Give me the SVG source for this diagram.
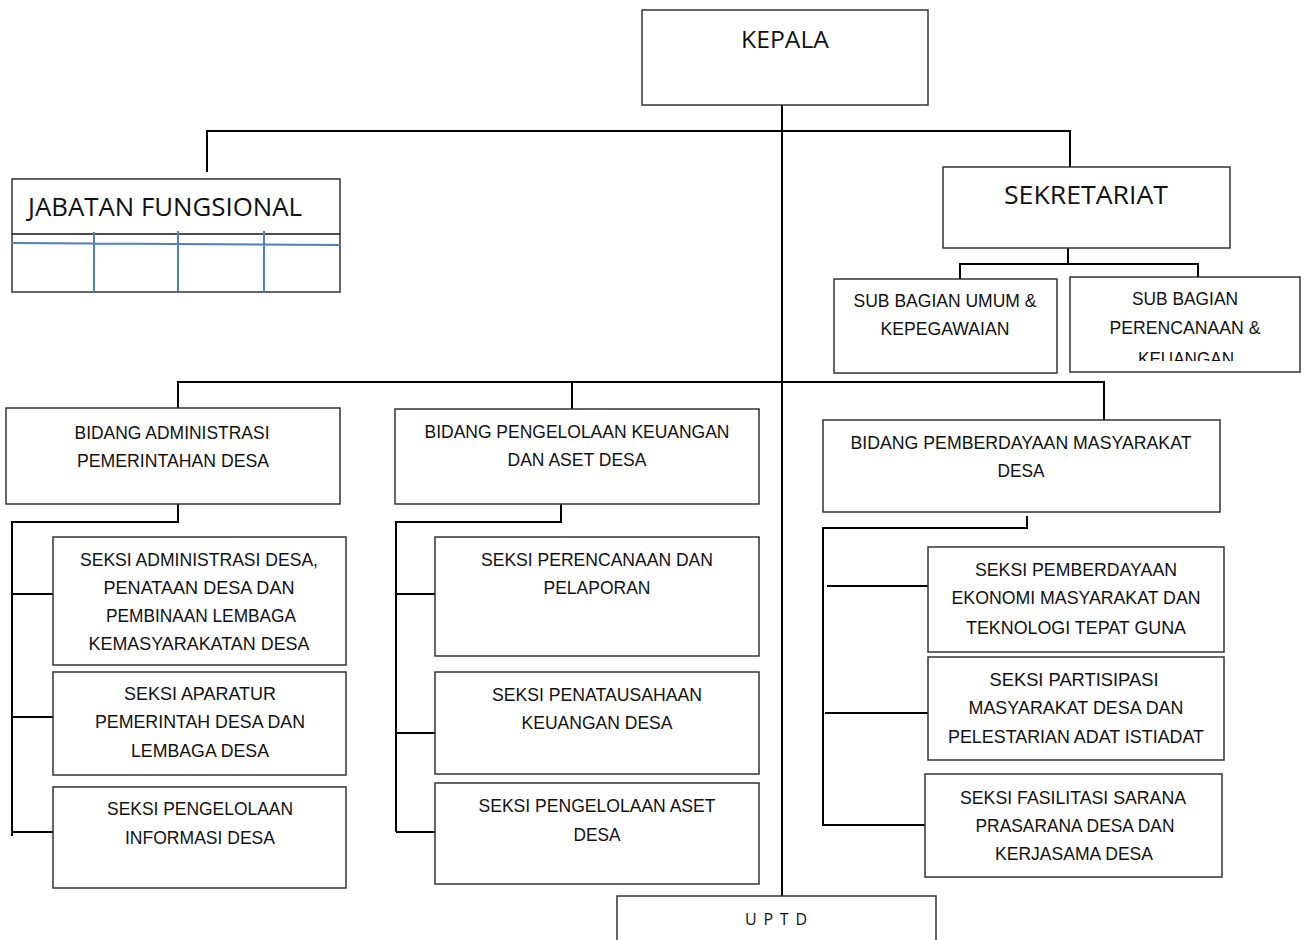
<svg xmlns="http://www.w3.org/2000/svg" width="1306" height="940" viewBox="0 0 1306 940">
<style>
.box{fill:#fff;stroke:#333;stroke-width:1.5}
.ln{stroke:#000;stroke-width:2;fill:none}
.bl{stroke:#4f81bd;stroke-width:2;fill:none}
.t{font-family:"Liberation Sans",Arial,sans-serif;font-size:19px;fill:#111;text-anchor:middle}
.h{font-family:"Open Sans","Noto Sans",sans-serif;fill:#111}
</style>
<defs>
<clipPath id="clipKeu"><rect x="1070" y="277" width="231" height="84"/></clipPath>
</defs>
<g id="connectors">
<path class="ln" d="M782 105V897"/>
<path class="ln" d="M207 172V131H1070V176"/>
<path class="ln" d="M1068 248V264M960 279V264H1198V278"/>
<path class="ln" d="M178 408V382H1104V420M572 382V420"/>
<path class="ln" d="M178 504V522H12V836M12 594H53M12 717H53M12 832H53"/>
<path class="ln" d="M561 504V522H396V832M396 594H435M396 733H435M396 832H435"/>
<path class="ln" d="M1027 516V528H823V825H925M827 586H928M825 713H928"/>
</g>
<g id="kepala">
<rect class="box" x="642" y="10" width="286" height="95"/>
<text class="h" x="785" y="48" font-size="23" text-anchor="middle" textLength="88" lengthAdjust="spacingAndGlyphs">KEPALA</text>
</g>
<g id="jabatan">
<rect class="box" x="12" y="179" width="328" height="113"/>
<path d="M12 234H340" stroke="#111" stroke-width="1.5"/>
<path class="bl" d="M12 243L340 245M94 232V292M178 231V291M264 231V291"/>
<text class="h" x="28" y="216" font-size="25" textLength="274" lengthAdjust="spacingAndGlyphs">JABATAN FUNGSIONAL</text>
</g>
<g id="sekretariat">
<rect class="box" x="943" y="167" width="287" height="81"/>
<text class="h" x="1086" y="204" font-size="25" text-anchor="middle" textLength="164" lengthAdjust="spacingAndGlyphs">SEKRETARIAT</text>
</g>
<g id="sub-umum">
<rect class="box" x="834" y="279" width="223" height="94"/>
<text class="t" x="945" y="307" textLength="183" lengthAdjust="spacingAndGlyphs">SUB BAGIAN UMUM &amp;</text>
<text class="t" x="945" y="335" textLength="129" lengthAdjust="spacingAndGlyphs">KEPEGAWAIAN</text>
</g>
<g id="sub-perencanaan">
<rect class="box" x="1070" y="277" width="230" height="95"/>
<text class="t" x="1185" y="305" textLength="106" lengthAdjust="spacingAndGlyphs">SUB BAGIAN</text>
<text class="t" x="1185" y="334" textLength="151" lengthAdjust="spacingAndGlyphs">PERENCANAAN &amp;</text>
<text class="t" x="1186" y="365" textLength="96" lengthAdjust="spacingAndGlyphs" clip-path="url(#clipKeu)">KEUANGAN</text>
</g>
<g id="bidang-admin">
<rect class="box" x="6" y="408" width="334" height="96"/>
<text class="t" x="172" y="439" textLength="195" lengthAdjust="spacingAndGlyphs">BIDANG ADMINISTRASI</text>
<text class="t" x="173" y="467" textLength="192" lengthAdjust="spacingAndGlyphs">PEMERINTAHAN DESA</text>
</g>
<g id="bidang-keuangan">
<rect class="box" x="395" y="409" width="364" height="95"/>
<text class="t" x="577" y="438" textLength="305" lengthAdjust="spacingAndGlyphs">BIDANG PENGELOLAAN KEUANGAN</text>
<text class="t" x="577" y="466" textLength="139" lengthAdjust="spacingAndGlyphs">DAN ASET DESA</text>
</g>
<g id="bidang-pemberdayaan">
<rect class="box" x="823" y="420" width="397" height="92"/>
<text class="t" x="1021" y="449" textLength="341" lengthAdjust="spacingAndGlyphs">BIDANG PEMBERDAYAAN MASYARAKAT</text>
<text class="t" x="1021" y="477" textLength="47" lengthAdjust="spacingAndGlyphs">DESA</text>
</g>
<g id="seksi-admin-desa">
<rect class="box" x="53" y="537" width="293" height="128"/>
<text class="t" x="199" y="566" textLength="238" lengthAdjust="spacingAndGlyphs">SEKSI ADMINISTRASI DESA,</text>
<text class="t" x="199" y="594" textLength="191" lengthAdjust="spacingAndGlyphs">PENATAAN DESA DAN</text>
<text class="t" x="201" y="622" textLength="190" lengthAdjust="spacingAndGlyphs">PEMBINAAN LEMBAGA</text>
<text class="t" x="199" y="650" textLength="221" lengthAdjust="spacingAndGlyphs">KEMASYARAKATAN DESA</text>
</g>
<g id="seksi-aparatur">
<rect class="box" x="53" y="672" width="293" height="103"/>
<text class="t" x="200" y="700" textLength="152" lengthAdjust="spacingAndGlyphs">SEKSI APARATUR</text>
<text class="t" x="200" y="728" textLength="210" lengthAdjust="spacingAndGlyphs">PEMERINTAH DESA DAN</text>
<text class="t" x="200" y="757" textLength="138" lengthAdjust="spacingAndGlyphs">LEMBAGA DESA</text>
</g>
<g id="seksi-informasi">
<rect class="box" x="53" y="787" width="293" height="101"/>
<text class="t" x="200" y="815" textLength="186" lengthAdjust="spacingAndGlyphs">SEKSI PENGELOLAAN</text>
<text class="t" x="200" y="844" textLength="150" lengthAdjust="spacingAndGlyphs">INFORMASI DESA</text>
</g>
<g id="seksi-perencanaan">
<rect class="box" x="435" y="537" width="324" height="119"/>
<text class="t" x="597" y="566" textLength="232" lengthAdjust="spacingAndGlyphs">SEKSI PERENCANAAN DAN</text>
<text class="t" x="597" y="594" textLength="107" lengthAdjust="spacingAndGlyphs">PELAPORAN</text>
</g>
<g id="seksi-penatausahaan">
<rect class="box" x="435" y="672" width="324" height="102"/>
<text class="t" x="597" y="701" textLength="210" lengthAdjust="spacingAndGlyphs">SEKSI PENATAUSAHAAN</text>
<text class="t" x="597" y="729" textLength="151" lengthAdjust="spacingAndGlyphs">KEUANGAN DESA</text>
</g>
<g id="seksi-aset">
<rect class="box" x="435" y="783" width="324" height="101"/>
<text class="t" x="597" y="812" textLength="237" lengthAdjust="spacingAndGlyphs">SEKSI PENGELOLAAN ASET</text>
<text class="t" x="597" y="841" textLength="47" lengthAdjust="spacingAndGlyphs">DESA</text>
</g>
<g id="seksi-ekonomi">
<rect class="box" x="928" y="547" width="296" height="105"/>
<text class="t" x="1076" y="576" textLength="202" lengthAdjust="spacingAndGlyphs">SEKSI PEMBERDAYAAN</text>
<text class="t" x="1076" y="604" textLength="249" lengthAdjust="spacingAndGlyphs">EKONOMI MASYARAKAT DAN</text>
<text class="t" x="1076" y="634" textLength="220" lengthAdjust="spacingAndGlyphs">TEKNOLOGI TEPAT GUNA</text>
</g>
<g id="seksi-partisipasi">
<rect class="box" x="928" y="657" width="296" height="103"/>
<text class="t" x="1074" y="686" textLength="169" lengthAdjust="spacingAndGlyphs">SEKSI PARTISIPASI</text>
<text class="t" x="1076" y="714" textLength="215" lengthAdjust="spacingAndGlyphs">MASYARAKAT DESA DAN</text>
<text class="t" x="1076" y="743" textLength="256" lengthAdjust="spacingAndGlyphs">PELESTARIAN ADAT ISTIADAT</text>
</g>
<g id="seksi-fasilitasi">
<rect class="box" x="925" y="774" width="297" height="103"/>
<text class="t" x="1073" y="804" textLength="226" lengthAdjust="spacingAndGlyphs">SEKSI FASILITASI SARANA</text>
<text class="t" x="1075" y="832" textLength="199" lengthAdjust="spacingAndGlyphs">PRASARANA DESA DAN</text>
<text class="t" x="1074" y="860" textLength="158" lengthAdjust="spacingAndGlyphs">KERJASAMA DESA</text>
</g>
<g id="uptd">
<rect class="box" x="617" y="896" width="319" height="60"/>
<text class="h" x="776" y="925" font-size="16" text-anchor="middle" textLength="62" lengthAdjust="spacing">U P T D</text>
</g>
</svg>
